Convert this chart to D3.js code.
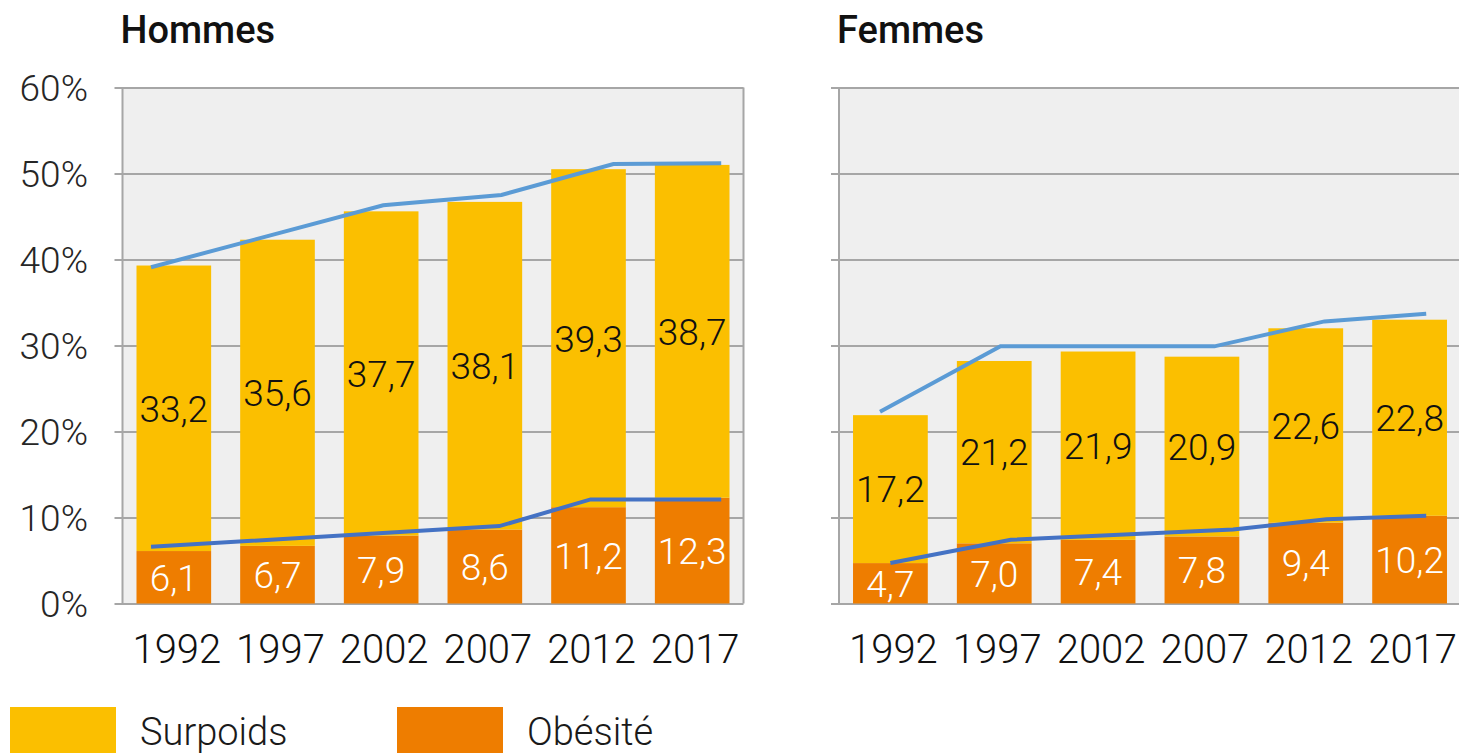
<!DOCTYPE html>
<html>
<head>
<meta charset="utf-8">
<script src="https://cdn.jsdelivr.net/npm/d3@7"></script>
<style>
  html, body { margin: 0; padding: 0; background: #ffffff; }
  svg { display: block; }
  text { font-family: Roboto, "Noto Sans", sans-serif; }
</style>
</head>
<body>
<svg id="chart" width="1459" height="753"></svg>
<script>
// ---- data ----
const years = [1992, 1997, 2002, 2007, 2012, 2017];
const panelTitles = ["Hommes", "Femmes"];
const seriesNames = ["Surpoids", "Obésité"];

const hommesObesite = [6.1, 6.7, 7.9, 8.6, 11.2, 12.3];
const hommesSurpoids = [33.2, 35.6, 37.7, 38.1, 39.3, 38.7];
const femmesObesite = [4.7, 7.0, 7.4, 7.8, 9.4, 10.2];
const femmesSurpoids = [17.2, 21.2, 21.9, 20.9, 22.6, 22.8];

const yTickValues = [0, 10, 20, 30, 40, 50, 60];
const yTickLabels = ["0%", "10%", "20%", "30%", "40%", "50%", "60%"];

// overlaid trend lines (x in years)
const hommesSurpoidsLineYears = [1990.9, 2002.1, 2007.8, 2013.2, 2018.4];
const hommesSurpoidsLineValues = [39.1, 46.3, 47.5, 51.1, 51.2];
const hommesObesiteLineYears = [1990.9, 2007.7, 2012.1, 2018.4];
const hommesObesiteLineValues = [6.6, 9.0, 12.1, 12.1];
const femmesSurpoidsLineYears = [1991.5, 1997.3, 2007.6, 2012.9, 2017.8];
const femmesSurpoidsLineValues = [22.3, 29.9, 29.9, 32.8, 33.7];
const femmesObesiteLineYears = [1992.0, 1997.8, 2008.5, 2013.0, 2017.8];
const femmesObesiteLineValues = [4.7, 7.4, 8.6, 9.8, 10.2];

// ---- styles ----
const colSurpoids = "#fbbf00";
const colObesite = "#ee7d00";
const colLineTop = "#5b9bd5";
const colLineLow = "#4472c4";
const colPlotBg = "#efefef";
const colGrid = "#a6a6a6";

const svg = d3.select("#chart");
const fmt = v => d3.format(".1f")(v).replace(".", ",");

const y = d3.scaleLinear().domain([0, 60]).range([603.5, 87.5]);

const panels = [
  { title: panelTitles[0], x0: 122.5, x1: 743.5, ob: hommesObesite, sp: hommesSurpoids,
    topYears: hommesSurpoidsLineYears, topVals: hommesSurpoidsLineValues,
    lowYears: hommesObesiteLineYears, lowVals: hommesObesiteLineValues, axisLabels: true },
  { title: panelTitles[1], x0: 839, x1: 1461, ob: femmesObesite, sp: femmesSurpoids,
    topYears: femmesSurpoidsLineYears, topVals: femmesSurpoidsLineValues,
    lowYears: femmesObesiteLineYears, lowVals: femmesObesiteLineValues, axisLabels: false }
];

panels.forEach(p => {
  const g = svg.append("g");
  const x = d3.scaleBand().domain(years).range([p.x0, p.x1]).paddingInner(0.28).paddingOuter(0.135);
  const bw = x.bandwidth();
  const xYear = d3.scaleLinear().domain([years[0], years[years.length - 1]])
    .range([x(years[0]) + bw / 2, x(years[years.length - 1]) + bw / 2]);

  // background
  g.append("rect").attr("x", p.x0).attr("y", y(60)).attr("width", p.x1 - p.x0).attr("height", y(0) - y(60))
    .attr("fill", colPlotBg);

  // gridlines via axis
  const yAxis = d3.axisLeft(y).tickValues(yTickValues).tickSize(-(p.x1 - p.x0)).tickFormat("");
  const ga = g.append("g").attr("transform", `translate(${p.x0},0)`).call(yAxis);
  ga.select(".domain").remove();
  ga.selectAll(".tick line").attr("stroke", colGrid).attr("stroke-width", 2)
    .attr("x1", -8);

  // frame
  g.append("line").attr("x1", p.x0).attr("x2", p.x0).attr("y1", y(60)).attr("y2", y(0))
    .attr("stroke", colGrid).attr("stroke-width", 2);
  g.append("line").attr("x1", p.x1).attr("x2", p.x1).attr("y1", y(60)).attr("y2", y(0))
    .attr("stroke", colGrid).attr("stroke-width", 2);

  if (p.axisLabels) {
    g.selectAll(".ylab").data(yTickValues).join("text")
      .attr("x", 88).attr("y", d => y(d)).attr("dy", "0.36em")
      .attr("text-anchor", "end").attr("font-size", 37).attr("font-weight", 300).attr("fill", "#262626")
      .text((d, i) => yTickLabels[i]);
  }

  // bars
  g.selectAll(".ob").data(years).join("rect")
    .attr("x", d => x(d)).attr("width", bw)
    .attr("y", (d, i) => y(p.ob[i])).attr("height", (d, i) => y(0) - y(p.ob[i]))
    .attr("fill", colObesite);
  g.selectAll(".sp").data(years).join("rect")
    .attr("x", d => x(d)).attr("width", bw)
    .attr("y", (d, i) => y(p.ob[i] + p.sp[i])).attr("height", (d, i) => y(p.ob[i]) - y(p.ob[i] + p.sp[i]))
    .attr("fill", colSurpoids);

  // value labels
  g.selectAll(".obl").data(years).join("text")
    .attr("x", d => x(d) + bw / 2).attr("y", (d, i) => y(p.ob[i] / 2)).attr("dy", "0.36em")
    .attr("text-anchor", "middle").attr("font-size", 37).attr("font-weight", 300).attr("fill", "#ffffff")
    .text((d, i) => fmt(p.ob[i]));
  g.selectAll(".spl").data(years).join("text")
    .attr("x", d => x(d) + bw / 2).attr("y", (d, i) => y(p.ob[i] + p.sp[i] / 2)).attr("dy", "0.36em")
    .attr("text-anchor", "middle").attr("font-size", 37).attr("font-weight", 300).attr("fill", "#111111")
    .text((d, i) => fmt(p.sp[i]));

  // trend lines
  const line = d3.line().x(d => xYear(d[0])).y(d => y(d[1]));
  g.append("path").datum(p.topYears.map((yr, i) => [yr, p.topVals[i]]))
    .attr("d", line).attr("fill", "none").attr("stroke", colLineTop).attr("stroke-width", 4);
  g.append("path").datum(p.lowYears.map((yr, i) => [yr, p.lowVals[i]]))
    .attr("d", line).attr("fill", "none").attr("stroke", colLineLow).attr("stroke-width", 4);

  // x axis labels
  const xAxis = d3.axisBottom(x).tickSize(0).tickPadding(0);
  const gx = g.append("g").attr("transform", `translate(0,${y(0)})`).call(xAxis);
  gx.select(".domain").remove();
  gx.selectAll(".tick text").attr("y", 59).attr("dy", 0).attr("dx", 3)
    .attr("font-size", 40).attr("font-weight", 300).attr("fill", "#111111").attr("font-family", "Roboto");

  // title
  g.append("text").attr("x", p.x0 - 2).attr("y", 43).attr("font-size", 38).attr("font-weight", 500)
    .attr("fill", "#111").text(p.title);
});

// legend
const legendX = [10, 397];
const legendCols = [colSurpoids, colObesite];
const lg = svg.append("g");
seriesNames.forEach((name, i) => {
  lg.append("rect").attr("x", legendX[i]).attr("y", 707).attr("width", 106).attr("height", 60).attr("fill", legendCols[i]);
  lg.append("text").attr("x", legendX[i] + 130).attr("y", 745).attr("font-size", 38).attr("font-weight", 300)
    .attr("fill", "#1a1a1a").text(name);
});
</script>
</body>
</html>
